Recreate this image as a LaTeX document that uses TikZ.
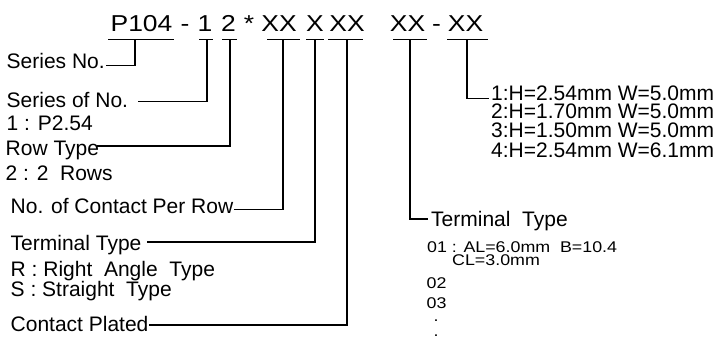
\documentclass[tikz,border=0pt]{standalone}
\usepackage{fontspec}
\setmainfont{Liberation Sans}
\newfontfamily\widefont[FakeStretch=1.15]{Liberation Sans}
\begin{document}
\begin{tikzpicture}[x=1pt,y=-1pt,
  code/.style={inner sep=0pt,anchor=base,font=\widefont\fontsize{23}{23}\selectfont},
  lab/.style={inner sep=0pt,anchor=base west,font=\fontsize{21}{21}\selectfont},
  tightlab/.style={lab,text height=15pt,text depth=3pt},
  small/.style={inner sep=0pt,anchor=base west,text height=11pt,text depth=1.5pt,
    font=\widefont\fontsize{15.5}{15.5}\selectfont},
  ul/.style={line width=1.3pt},
  conn/.style={line width=1.3pt}]
\useasboundingbox (0,0) rectangle (725,351);
% code line
\node[code] (p104) at (141.5,31.5) {P104};
\node[code] (d1) at (185,31.5) {-};
\node[code] (c1) at (205,31.5) {1};
\node[code] (c2) at (228.5,31.5) {2};
\node[code] (star) at (249,31.5) {*};
\node[code] (xa) at (279,31.5) {XX};
\node[code] (xb) at (315,31.5) {X};
\node[code] (xc) at (347,31.5) {XX};
\node[code] (xd) at (407.5,31.5) {XX};
\node[code] (d2) at (436.5,31.5) {-};
\node[code] (xe) at (465.5,31.5) {XX};
% underlines
\draw[ul] (108,39.5) -- (174,39.5);
\draw[ul] (199,39.5) -- (213,39.5);
\draw[ul] (222,39.5) -- (237,39.5);
\draw[ul] (267,39.5) -- (300,39.5);
\draw[ul] (306,39.5) -- (324,39.5);
\draw[ul] (328,39.5) -- (363,39.5);
\draw[ul] (393,39.5) -- (427,39.5);
\draw[ul] (447,39.5) -- (488,39.5);
% stem tops
\coordinate (tp) at (135,39.5);
\coordinate (t1) at (207,39.5);
\coordinate (t2) at (230,39.5);
\coordinate (ta) at (283,39.5);
\coordinate (tb) at (315,39.5);
\coordinate (tc) at (347,39.5);
\coordinate (td) at (410,39.5);
\coordinate (te) at (467,39.5);
% left labels
\node[lab] (sn) at (6.5,68.3) {Series No.};
\node[lab] (sof) at (6.5,107.3) {Series of No.};
\node[lab] (p254) at (6.5,130) {1 : P2.54};
\node[lab] (rt) at (5.5,155) {Row Type};
\node[lab] (rows) at (5.5,180) {2 : 2\ \ Rows};
\node[lab] (ncp) at (10.5,213.3) {No. of Contact Per Row};
\node[lab] (tt) at (10.5,250) {Terminal Type};
\node[lab] (rat) at (10.5,276) {R : Right\ \ Angle\ \ Type};
\node[lab] (st) at (10.5,296.7) {S : Straight\ \ Type};
\node[lab] (cp) at (10.5,331.7) {Contact Plated};
% right labels
\node[tightlab] (h1) at (491,100) {1:H=2.54mm W=5.0mm};
\node[tightlab] (h2) at (491,118.5) {2:H=1.70mm W=5.0mm};
\node[tightlab] (h3) at (491,137.5) {3:H=1.50mm W=5.0mm};
\node[tightlab] (h4) at (491,157) {4:H=2.54mm W=6.1mm};
\node[lab] (tt2) at (431,226) {Terminal\ \ Type};
\node[small] (al) at (427,252) {01 : AL=6.0mm\ \ B=10.4};
\node[small] (cl) at (452,265.5) {CL=3.0mm};
\node[small] (n02) at (426.5,288.3) {02};
\node[small] (n03) at (426.5,308.3) {03};
\node[small] (dt1) at (433.5,321) {.};
\node[small] (dt2) at (433.5,336.5) {.};
% connectors
\draw[conn] (tp) |- ([shift={(1,-3)}]sn.base east);
\draw[conn] (t1) |- ([shift={(10,-5.5)}]sof.base east);
\draw[conn] (t2) |- ([shift={(-2,-9)}]rt.base east);
\draw[conn] (ta) |- ([shift={(1,-4)}]ncp.base east);
\draw[conn] (tb) |- ([shift={(5,-8)}]tt.base east);
\draw[conn] (tc) |- ([shift={(0,-6.7)}]cp.base east);
\draw[conn] (td) |- ([shift={(-3,-7)}]tt2.base west);
\draw[conn] (te) |- ([shift={(-2,-1.5)}]h1.base west);
\end{tikzpicture}
\end{document}
